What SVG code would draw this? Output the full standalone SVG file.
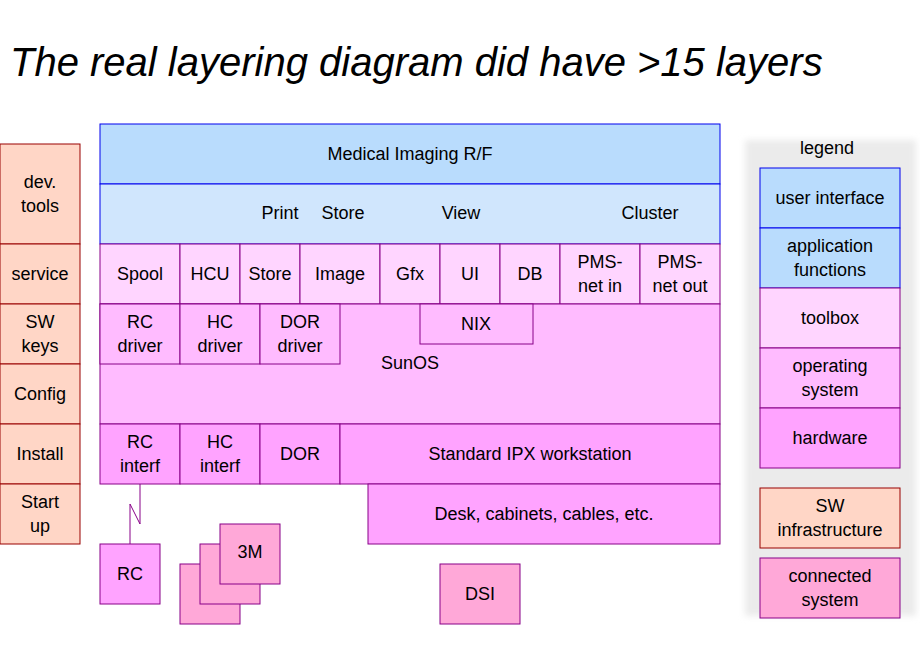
<svg xmlns="http://www.w3.org/2000/svg" width="920" height="660" viewBox="0 0 920 660">
<defs>
<filter id="blur" x="-10%" y="-10%" width="120%" height="120%"><feGaussianBlur stdDeviation="3"/></filter>
</defs>
<style>
text{font-family:"Liberation Sans",Arial,sans-serif;font-size:18px;fill:#000;text-anchor:middle}
rect{stroke-width:1}
.ui{fill:#b9dcfd;stroke:#0000ee}
.af{fill:#d0e6fd;stroke:#0000ee}
.tb{fill:#ffd5ff;stroke:#880088}
.os{fill:#ffbbff;stroke:#880088}
.hw{fill:#ffa3ff;stroke:#880088}
.sw{fill:#ffd6c6;stroke:#990000}
.cs{fill:#ffa8d8;stroke:#880088}
</style>
<rect width="920" height="660" fill="#fff"/>
<text x="10" y="76" style="font-size:40px;font-style:italic;text-anchor:start">The real layering diagram did have &gt;15 layers</text>

<g id="main-ui"><rect class="ui" x="100" y="124" width="620" height="60"/><text x="410" y="160">Medical Imaging R/F</text></g>
<g id="main-af"><rect class="af" x="100" y="184" width="620" height="60"/>
<text x="280" y="219">Print</text><text x="343" y="219">Store</text><text x="461" y="219">View</text><text x="650" y="219">Cluster</text></g>
<g id="spool"><rect class="tb" x="100" y="244" width="80" height="60"/><text x="140" y="280">Spool</text></g>
<g id="hcu"><rect class="tb" x="180" y="244" width="60" height="60"/><text x="210" y="280">HCU</text></g>
<g id="store"><rect class="tb" x="240" y="244" width="60" height="60"/><text x="270" y="280">Store</text></g>
<g id="image"><rect class="tb" x="300" y="244" width="80" height="60"/><text x="340" y="280">Image</text></g>
<g id="gfx"><rect class="tb" x="380" y="244" width="60" height="60"/><text x="410" y="280">Gfx</text></g>
<g id="ui"><rect class="tb" x="440" y="244" width="60" height="60"/><text x="470" y="280">UI</text></g>
<g id="db"><rect class="tb" x="500" y="244" width="60" height="60"/><text x="530" y="280">DB</text></g>
<g id="pmsin"><rect class="tb" x="560" y="244" width="80" height="60"/><text x="600" y="268">PMS-</text><text x="600" y="292">net in</text></g>
<g id="pmsout"><rect class="tb" x="640" y="244" width="80" height="60"/><text x="680" y="268">PMS-</text><text x="680" y="292">net out</text></g>
<g id="sunos"><rect class="os" x="100" y="304" width="620" height="120"/><text x="410" y="369">SunOS</text></g>
<g id="rcdriver"><rect class="os" x="100" y="304" width="80" height="60"/><text x="140" y="328">RC</text><text x="140" y="352">driver</text></g>
<g id="hcdriver"><rect class="os" x="180" y="304" width="80" height="60"/><text x="220" y="328">HC</text><text x="220" y="352">driver</text></g>
<g id="dordriver"><rect class="os" x="260" y="304" width="80" height="60"/><text x="300" y="328">DOR</text><text x="300" y="352">driver</text></g>
<g id="nix"><rect class="os" x="420" y="304" width="113" height="40"/><text x="476" y="330">NIX</text></g>
<g id="rcinterf"><rect class="hw" x="100" y="424" width="80" height="60"/><text x="140" y="448">RC</text><text x="140" y="472">interf</text></g>
<g id="hcinterf"><rect class="hw" x="180" y="424" width="80" height="60"/><text x="220" y="448">HC</text><text x="220" y="472">interf</text></g>
<g id="dor"><rect class="hw" x="260" y="424" width="80" height="60"/><text x="300" y="460">DOR</text></g>
<g id="ipx"><rect class="hw" x="340" y="424" width="380" height="60"/><text x="530" y="460">Standard IPX workstation</text></g>
<g id="desk"><rect class="hw" x="368" y="484" width="352" height="60"/><text x="544" y="520">Desk, cabinets, cables, etc.</text></g>

<g id="devtools"><rect class="sw" x="0" y="144" width="80" height="100"/><text x="40" y="188">dev.</text><text x="40" y="212">tools</text></g>
<g id="service"><rect class="sw" x="0" y="244" width="80" height="60"/><text x="40" y="280">service</text></g>
<g id="swkeys"><rect class="sw" x="0" y="304" width="80" height="60"/><text x="40" y="328">SW</text><text x="40" y="352">keys</text></g>
<g id="config"><rect class="sw" x="0" y="364" width="80" height="60"/><text x="40" y="400">Config</text></g>
<g id="install"><rect class="sw" x="0" y="424" width="80" height="60"/><text x="40" y="460">Install</text></g>
<g id="startup"><rect class="sw" x="0" y="484" width="80" height="60"/><text x="40" y="508">Start</text><text x="40" y="532">up</text></g>

<g id="connectors"><path d="M140 484 V524 L130 504 V544" fill="none" stroke="#880088" stroke-width="1"/></g>
<g id="rc"><rect class="hw" x="100" y="544" width="60" height="60"/><text x="130" y="580">RC</text></g>
<g id="threem">
<rect class="cs" x="180" y="564" width="60" height="60"/>
<rect class="cs" x="200" y="544" width="60" height="60"/>
<rect class="cs" x="220" y="524" width="60" height="60"/><text x="250" y="558">3M</text></g>
<g id="dsi"><rect class="cs" x="440" y="564" width="80" height="60"/><text x="480" y="600">DSI</text></g>

<g id="legend">
<rect x="745" y="140" width="171" height="476" fill="#ebebeb" filter="url(#blur)"/>
<text x="827" y="154">legend</text>
<rect class="ui" x="760" y="168" width="140" height="60"/><text x="830" y="204">user interface</text>
<rect class="ui" x="760" y="228" width="140" height="60"/><text x="830" y="252">application</text><text x="830" y="276">functions</text>
<rect class="tb" x="760" y="288" width="140" height="60"/><text x="830" y="324">toolbox</text>
<rect class="os" x="760" y="348" width="140" height="60"/><text x="830" y="372">operating</text><text x="830" y="396">system</text>
<rect class="hw" x="760" y="408" width="140" height="60"/><text x="830" y="444">hardware</text>
<rect class="sw" x="760" y="488" width="140" height="60"/><text x="830" y="512">SW</text><text x="830" y="536">infrastructure</text>
<rect class="cs" x="760" y="558" width="140" height="60"/><text x="830" y="582">connected</text><text x="830" y="606">system</text>
</g>
</svg>
